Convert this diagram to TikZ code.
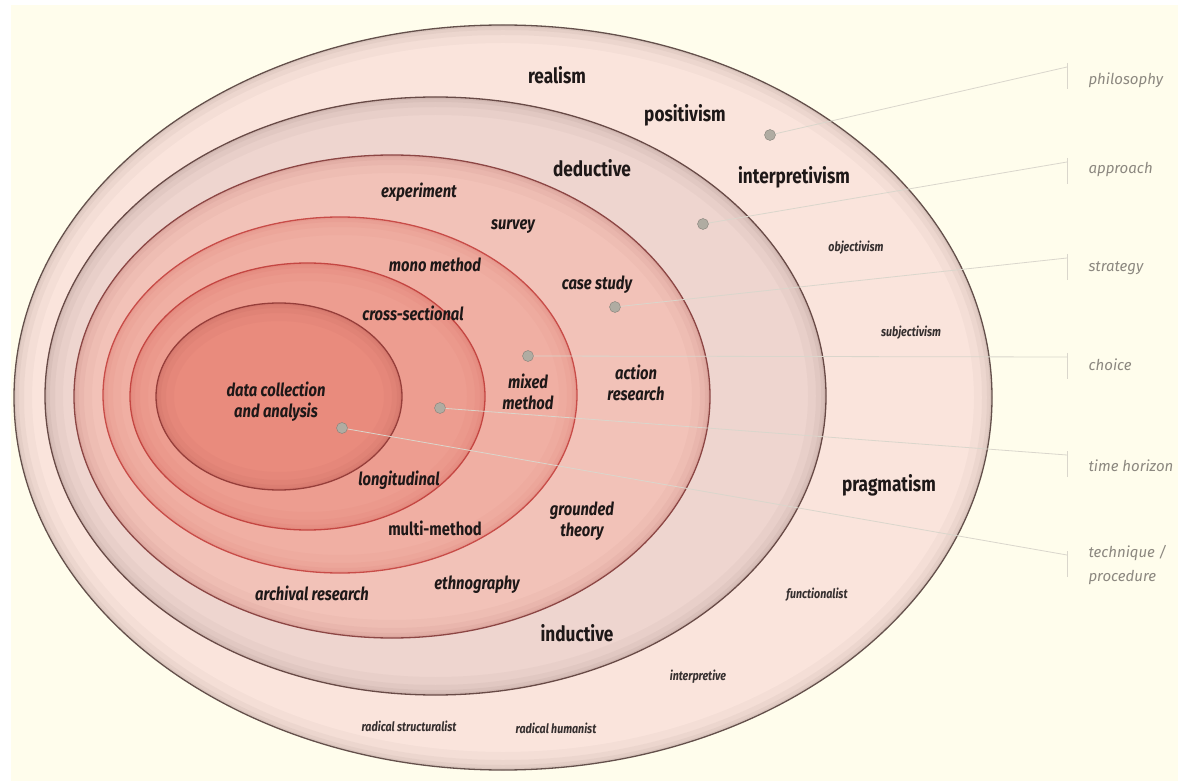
\documentclass[tikz,border=0pt]{standalone}
\usepackage{fontspec}
\setmainfont{Fira Sans}
\newfontfamily\onionfont{Fira Sans}[FakeStretch=0.82]

\definecolor{paper}{RGB}{255,253,236}
\definecolor{ring1}{RGB}{250,228,220}
\definecolor{ring2}{RGB}{238,213,207}
\definecolor{ring3}{RGB}{242,194,184}
\definecolor{ring4}{RGB}{240,175,163}
\definecolor{ring5}{RGB}{237,157,144}
\definecolor{ring6}{RGB}{233,139,125}
\definecolor{edge1}{RGB}{100,80,75}
\definecolor{edge2}{RGB}{104,74,70}
\definecolor{edge3}{RGB}{140,70,68}
\definecolor{edge4}{RGB}{200,76,72}
\definecolor{edge5}{RGB}{196,70,66}
\definecolor{edge6}{RGB}{150,62,58}
\definecolor{inkc}{RGB}{30,24,24}
\definecolor{sidec}{RGB}{140,136,128}
\definecolor{leadc}{RGB}{218,214,204}
\definecolor{dotc}{RGB}{176,172,162}

\begin{document}
\begin{tikzpicture}[x=1pt, y=-1pt,
    layer/.style={font=\onionfont\fontsize{21}{23}\selectfont\bfseries, text=inkc},
    item/.style={font=\onionfont\fontsize{18}{21}\selectfont\bfseries\itshape, text=inkc, align=center},
    minor/.style={font=\onionfont\fontsize{13}{15}\selectfont\bfseries\itshape, text=inkc!90},
    dot/.style={circle, fill=dotc, draw=dotc!75!black, inner sep=0pt, minimum size=11pt},
    leader/.style={draw=leadc, line width=0.8pt},
    side/.style={font=\fontsize{15}{24}\selectfont\itshape, text=sidec, anchor=west, align=left}]
    % Page and its thin white margin
    \useasboundingbox (0,0) rectangle (1178,783);
    \fill[white] (0,0) rectangle (1178,783);
    \fill[paper] (11,5) rectangle (1178,781);

    % The onion layers, outermost first
    \foreach \cx/\cy/\rx/\ry/\ringc/\edgec in {
        503/397.5/489/372.5/ring1/edge1,
        435.5/396/390.5/299/ring2/edge2,
        392/396.5/318/241.5/ring3/edge3,
        340/395/237/178/ring4/edge4,
        307.5/396.5/177.5/133.5/ring5/edge5,
        279/396.5/123/93.5/ring6/edge6} {
        \fill[\ringc] (\cx,\cy) ellipse [x radius=\rx pt, y radius=\ry pt]; % layer body
        \foreach \w/\o in {18/0.04, 10/0.05, 5/0.06, 2/0.08} % soft shadow inside the rim
            \draw[\edgec, line width=\w pt, opacity=\o] (\cx,\cy) ellipse [x radius=\rx pt-\w pt/2, y radius=\ry pt-\w pt/2];
        \draw[\edgec, line width=1.3pt] (\cx,\cy) ellipse [x radius=\rx pt, y radius=\ry pt]; % rim
    }

    % Leaders from each layer out to its name
    \foreach \tag/\dx/\dy/\ey/\ly/\txt in {
        phil/770/135/67/80/philosophy,
        appr/703/224/162/170/approach,
        strat/615/307/258/268/strategy,
        choice/528/356/357/365/choice,
        time/440/408/455/466/time horizon,
        tech/342/428/555/565/{technique /\\procedure}} {
        \node[dot] (\tag-dot) at (\dx,\dy) {};
        \coordinate (\tag-end) at (1067,\ey);
        \draw[leader] (\tag-dot) -- (\tag-end); % leader line
        \draw[leader] ([yshift=4pt]\tag-end) -- ++(0,26); % tick
        \node[side] (\tag-name) at (1085,\ly) {\txt};
    }

    % Philosophy and approach
    \node[layer] (realism) at (557,75) {realism};
    \node[layer] (positivism) at (685,115) {positivism};
    \node[layer] (interpretivism) at (794,177) {interpretivism};
    \node[layer] (pragmatism) at (889,485) {pragmatism};
    \node[layer] (deductive) at (592,168) {deductive};
    \node[layer] (inductive) at (577,633) {inductive};

    % Strategies
    \node[item] (experiment) at (419,192) {experiment};
    \node[item] (survey) at (513,227) {survey};
    \node[item] (casestudy) at (597,285) {case study};
    \node[item] (action) at (636,383) {action\\research};
    \node[item] (grounded) at (582,521) {grounded\\theory};
    \node[item] (ethnography) at (477,585) {ethnography};
    \node[item] (archival) at (312,593) {archival research};

    % Choices, time horizons, techniques
    \node[item] (mono) at (435,265) {mono method};
    \node[item] (mixed) at (528,392) {mixed\\method};
    \node[item, font=\onionfont\fontsize{18}{21}\selectfont\bfseries] (multi) at (435,528) {multi-method};
    \node[item] (cross) at (413,313) {cross-sectional};
    \node[item] (longitudinal) at (399,480) {longitudinal};
    \node[item] (data) at (276,402) {data collection\\and analysis};

    % Paradigms in the outer ring
    \node[minor] (objectivism) at (856,248) {objectivism};
    \node[minor] (subjectivism) at (911,333) {subjectivism};
    \node[minor] (functionalist) at (817,595) {functionalist};
    \node[minor] (interpretive) at (698,677) {interpretive};
    \node[minor] (structuralist) at (409,726) {radical structuralist};
    \node[minor] (humanist) at (556,728) {radical humanist};
\end{tikzpicture}
\end{document}
